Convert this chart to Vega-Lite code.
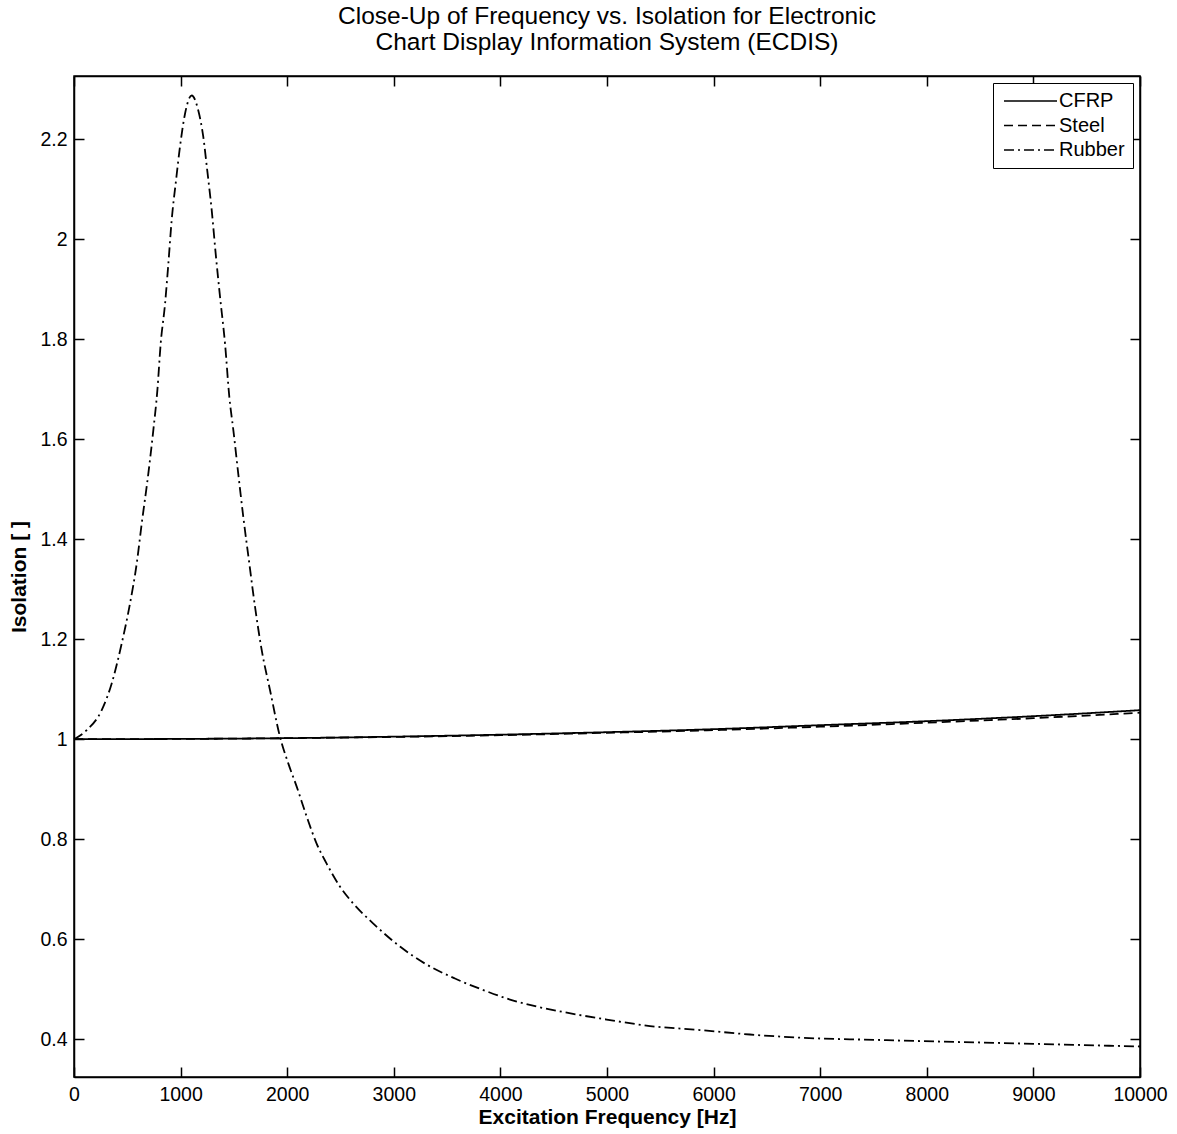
{
  "$schema": "https://vega.github.io/schema/vega-lite/v6.json",
  "width": 1066,
  "height": 1001,
  "autosize": "none",
  "padding": {"left": 74, "top": 76, "right": 37, "bottom": 57},
  "background": "white",
  "config": {
    "view": {"stroke": "black", "strokeWidth": 1.5},
    "font": "Liberation Sans",
    "axis": {
      "grid": false,
      "domainColor": "black",
      "domainWidth": 1.5,
      "tickColor": "black",
      "tickWidth": 1.5,
      "tickSize": -10,
      "labelFont": "Liberation Sans",
      "labelFontSize": 19.5,
      "labelColor": "black",
      "titleFont": "Liberation Sans",
      "titleFontSize": 21,
      "titleFontWeight": "bold",
      "titleColor": "black"
    }
  },
  "title": {
    "text": ["Close-Up of Frequency vs. Isolation for Electronic", "Chart Display Information System (ECDIS)"],
    "anchor": "middle",
    "font": "Liberation Sans",
    "fontSize": 24.5,
    "fontWeight": "normal",
    "color": "black",
    "lineHeight": 26,
    "offset": 20
  },
  "data": {
    "values": [
      {"f": 0, "v": 1.0, "s": "CFRP"},
      {"f": 1000, "v": 1.0005, "s": "CFRP"},
      {"f": 2000, "v": 1.002, "s": "CFRP"},
      {"f": 3000, "v": 1.005, "s": "CFRP"},
      {"f": 4000, "v": 1.009, "s": "CFRP"},
      {"f": 5000, "v": 1.014, "s": "CFRP"},
      {"f": 6000, "v": 1.02, "s": "CFRP"},
      {"f": 7000, "v": 1.028, "s": "CFRP"},
      {"f": 8000, "v": 1.036, "s": "CFRP"},
      {"f": 9000, "v": 1.046, "s": "CFRP"},
      {"f": 10000, "v": 1.058, "s": "CFRP"},
      {"f": 0, "v": 1.0, "s": "Steel"},
      {"f": 1000, "v": 1.0005, "s": "Steel"},
      {"f": 2000, "v": 1.002, "s": "Steel"},
      {"f": 3000, "v": 1.0045, "s": "Steel"},
      {"f": 4000, "v": 1.008, "s": "Steel"},
      {"f": 5000, "v": 1.0127, "s": "Steel"},
      {"f": 6000, "v": 1.018, "s": "Steel"},
      {"f": 7000, "v": 1.025, "s": "Steel"},
      {"f": 8000, "v": 1.033, "s": "Steel"},
      {"f": 9000, "v": 1.042, "s": "Steel"},
      {"f": 10000, "v": 1.053, "s": "Steel"},
      {"f": 0, "v": 1.0, "s": "Rubber"},
      {"f": 119, "v": 1.018, "s": "Rubber"},
      {"f": 260, "v": 1.058, "s": "Rubber"},
      {"f": 353, "v": 1.111, "s": "Rubber"},
      {"f": 447, "v": 1.191, "s": "Rubber"},
      {"f": 525, "v": 1.271, "s": "Rubber"},
      {"f": 588, "v": 1.351, "s": "Rubber"},
      {"f": 635, "v": 1.431, "s": "Rubber"},
      {"f": 697, "v": 1.531, "s": "Rubber"},
      {"f": 744, "v": 1.618, "s": "Rubber"},
      {"f": 782, "v": 1.698, "s": "Rubber"},
      {"f": 813, "v": 1.791, "s": "Rubber"},
      {"f": 854, "v": 1.871, "s": "Rubber"},
      {"f": 885, "v": 1.951, "s": "Rubber"},
      {"f": 916, "v": 2.038, "s": "Rubber"},
      {"f": 957, "v": 2.118, "s": "Rubber"},
      {"f": 994, "v": 2.185, "s": "Rubber"},
      {"f": 1041, "v": 2.251, "s": "Rubber"},
      {"f": 1104, "v": 2.288, "s": "Rubber"},
      {"f": 1166, "v": 2.258, "s": "Rubber"},
      {"f": 1213, "v": 2.205, "s": "Rubber"},
      {"f": 1250, "v": 2.138, "s": "Rubber"},
      {"f": 1292, "v": 2.058, "s": "Rubber"},
      {"f": 1332, "v": 1.965, "s": "Rubber"},
      {"f": 1370, "v": 1.885, "s": "Rubber"},
      {"f": 1417, "v": 1.791, "s": "Rubber"},
      {"f": 1457, "v": 1.685, "s": "Rubber"},
      {"f": 1495, "v": 1.618, "s": "Rubber"},
      {"f": 1541, "v": 1.531, "s": "Rubber"},
      {"f": 1588, "v": 1.445, "s": "Rubber"},
      {"f": 1645, "v": 1.351, "s": "Rubber"},
      {"f": 1698, "v": 1.265, "s": "Rubber"},
      {"f": 1761, "v": 1.178, "s": "Rubber"},
      {"f": 1839, "v": 1.098, "s": "Rubber"},
      {"f": 1932, "v": 1.005, "s": "Rubber"},
      {"f": 2011, "v": 0.951, "s": "Rubber"},
      {"f": 2089, "v": 0.905, "s": "Rubber"},
      {"f": 2183, "v": 0.845, "s": "Rubber"},
      {"f": 2276, "v": 0.791, "s": "Rubber"},
      {"f": 2370, "v": 0.751, "s": "Rubber"},
      {"f": 2495, "v": 0.705, "s": "Rubber"},
      {"f": 2620, "v": 0.671, "s": "Rubber"},
      {"f": 2808, "v": 0.631, "s": "Rubber"},
      {"f": 3058, "v": 0.585, "s": "Rubber"},
      {"f": 3300, "v": 0.55, "s": "Rubber"},
      {"f": 3574, "v": 0.521, "s": "Rubber"},
      {"f": 3840, "v": 0.498, "s": "Rubber"},
      {"f": 4090, "v": 0.479, "s": "Rubber"},
      {"f": 4340, "v": 0.465, "s": "Rubber"},
      {"f": 4590, "v": 0.454, "s": "Rubber"},
      {"f": 4997, "v": 0.439, "s": "Rubber"},
      {"f": 5403, "v": 0.426, "s": "Rubber"},
      {"f": 5872, "v": 0.418, "s": "Rubber"},
      {"f": 6341, "v": 0.409, "s": "Rubber"},
      {"f": 6780, "v": 0.403, "s": "Rubber"},
      {"f": 7561, "v": 0.398, "s": "Rubber"},
      {"f": 8499, "v": 0.393, "s": "Rubber"},
      {"f": 9437, "v": 0.388, "s": "Rubber"},
      {"f": 10000, "v": 0.385, "s": "Rubber"}
    ]
  },
  "layer": [
    {
      "mark": {"type": "line", "color": "black", "strokeWidth": 1.8, "interpolate": "monotone"},
      "encoding": {
        "x": {
          "field": "f", "type": "quantitative",
          "scale": {"domain": [0, 10000], "nice": false, "zero": false},
          "axis": {"orient": "bottom", "values": [0,1000,2000,3000,4000,5000,6000,7000,8000,9000,10000], "format": "d", "labelPadding": 18, "title": "Excitation Frequency [Hz]", "titlePadding": 3, "labelFlush": false}
        },
        "y": {
          "field": "v", "type": "quantitative",
          "scale": {"domain": [0.324, 2.327], "nice": false, "zero": false},
          "axis": {"orient": "left", "values": [0.4,0.6,0.8,1,1.2,1.4,1.6,1.8,2,2.2], "format": "~g", "labelPadding": 17, "title": "Isolation [ ]", "titlePadding": 10}
        },
        "strokeDash": {
          "field": "s", "type": "nominal",
          "scale": {"domain": ["CFRP", "Steel", "Rubber"], "range": [[1, 0], [9, 5], [10, 4, 2, 4]]},
          "legend": {
            "title": null,
            "orient": "none",
            "legendX": 919,
            "legendY": 7,
            "direction": "vertical",
            "fillColor": "white",
            "strokeColor": "black",
            "cornerRadius": 0,
            "padding": 8,
            "symbolType": "M-1.4,0H9.2",
            "symbolSize": 100,
            "symbolStrokeColor": "black",
            "symbolStrokeWidth": 1.5,
            "labelOffset": 38,
            "labelFont": "Liberation Sans",
            "labelFontSize": 20,
            "labelColor": "black",
            "rowPadding": 4.5
          }
        },
        "detail": {"field": "s"}
      }
    },
    {
      "mark": {"type": "line", "opacity": 0},
      "encoding": {
        "x": {"field": "f", "type": "quantitative", "axis": {"orient": "top", "labels": false, "title": null, "values": [0,1000,2000,3000,4000,5000,6000,7000,8000,9000,10000]}},
        "y": {"field": "v", "type": "quantitative", "axis": {"orient": "right", "labels": false, "title": null, "values": [0.4,0.6,0.8,1,1.2,1.4,1.6,1.8,2,2.2]}},
        "detail": {"field": "s"}
      }
    }
  ],
  "resolve": {"axis": {"x": "independent", "y": "independent"}}
}
